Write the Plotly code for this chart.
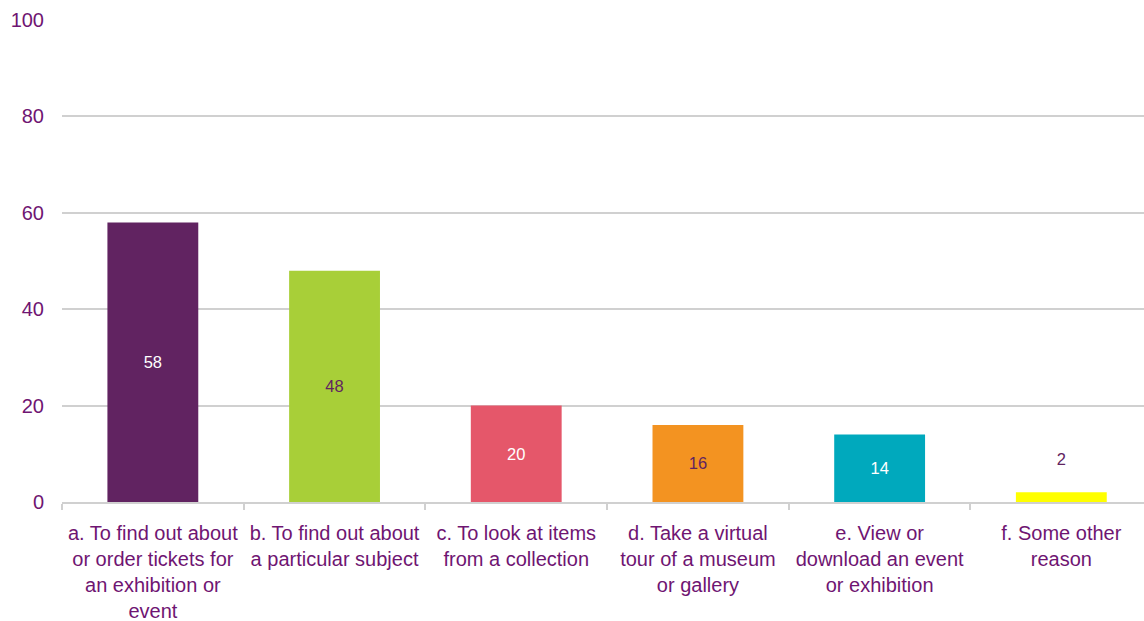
import plotly.graph_objects as go

categories = [
    "a. To find out about<br>or order tickets for<br>an exhibition or<br>event",
    "b. To find out about<br>a particular subject",
    "c. To look at items<br>from a collection",
    "d. Take a virtual<br>tour of a museum<br>or gallery",
    "e. View or<br>download an event<br>or exhibition",
    "f. Some other<br>reason",
]
values = [58, 48, 20, 16, 14, 2]
bar_colors = ["#612361", "#a8cf38", "#e5576a", "#f39321", "#00a9bd", "#ffff00"]
label_colors = ["#ffffff", "#612361", "#ffffff", "#612361", "#ffffff", "#612361"]
label_positions = ["inside", "inside", "inside", "inside", "inside", "outside"]
y_ticks = [0, 20, 40, 60, 80, 100]

PURPLE = "#6f1572"
GRID = "#d0d0d0"
FONT = "Liberation Sans, Arial, sans-serif"

texts = [f"{v}" if p == "inside" else f"{v}<br> " for v, p in zip(values, label_positions)]

fig = go.Figure(
    go.Bar(
        x=categories,
        y=values,
        marker=dict(color=bar_colors, line=dict(width=0)),
        text=texts,
        texttemplate="%{text}",
        textposition=label_positions,
        insidetextanchor="middle",
        textfont=dict(color=label_colors, size=16.5, family=FONT),
        outsidetextfont=dict(color=label_colors, size=16.5, family=FONT),
        insidetextfont=dict(color=label_colors, size=16.5, family=FONT),
        cliponaxis=False,
        hoverinfo="skip",
    )
)

fig.update_layout(
    width=1144,
    height=621,
    margin=dict(l=62, r=0, t=20, b=119),
    paper_bgcolor="white",
    plot_bgcolor="white",
    bargap=0.5,
    showlegend=False,
    font=dict(family=FONT, color=PURPLE, size=20),
    uniformtext=dict(mode=False),
)

# the last category slot runs slightly past the right edge of the page
fig.update_xaxes(
    type="category",
    range=[-0.5, 5.455],
    tickson="boundaries",
    ticks="outside",
    ticklen=6,
    tickwidth=2,
    tickcolor=GRID,
    showline=True,
    linecolor=GRID,
    linewidth=2,
    showgrid=False,
    tickangle=0,
    ticklabelstandoff=12,
    tickfont=dict(size=20, color=PURPLE, family=FONT),
)

fig.update_yaxes(
    range=[0, 100],
    tickvals=y_ticks,
    showgrid=True,
    gridcolor=GRID,
    gridwidth=2,
    zeroline=False,
    showline=False,
    ticks="",
    ticklabelstandoff=17,
    tickfont=dict(size=20, color=PURPLE, family=FONT),
)

fig.write_html("out.html")
